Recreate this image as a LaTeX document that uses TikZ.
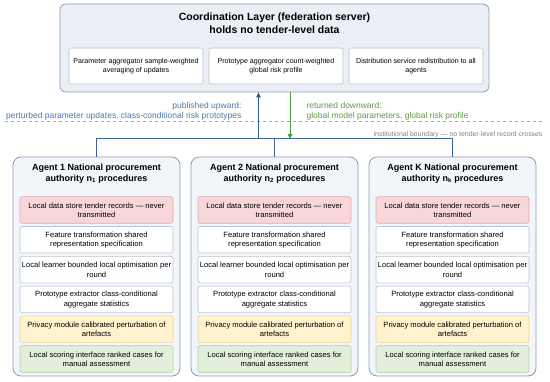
\documentclass[tikz,border=0pt]{standalone}
\usepackage{fontspec}
\setmainfont{Liberation Sans}
\usetikzlibrary{arrows.meta}

\definecolor{layerfill}{HTML}{EAEEF5}
\definecolor{agentfill}{HTML}{F2F6FB}
\definecolor{frameline}{HTML}{8C9DB2}
\definecolor{boxline}{HTML}{B9C5D3}
\definecolor{storefill}{HTML}{F8D7DA}
\definecolor{storeline}{HTML}{E3A5AC}
\definecolor{privfill}{HTML}{FFF2CC}
\definecolor{privline}{HTML}{E8D39A}
\definecolor{scorefill}{HTML}{E2EFDA}
\definecolor{scoreline}{HTML}{B5D1A3}
\definecolor{upblue}{HTML}{2E5C8A}
\definecolor{uptext}{HTML}{4A78A8}
\definecolor{downgreen}{HTML}{4E9A3C}
\definecolor{downtext}{HTML}{5B9A45}
\definecolor{busline}{HTML}{3E668F}

\begin{document}
\begin{tikzpicture}[x=1pt, y=-1pt,
        every node/.style={align=center, font=\fontsize{7.6}{9.4}\selectfont},
        layer/.style={rectangle, draw=frameline, line width=0.8pt, rounded corners=6pt, minimum width=429pt, minimum height=88pt, fill=layerfill},
        service/.style={rectangle, draw=boxline, line width=0.6pt, rounded corners=2pt, minimum width=134pt, minimum height=36pt, fill=white, font=\fontsize{7.1}{9}\selectfont},
        agent/.style={rectangle, draw=frameline, line width=0.8pt, rounded corners=8pt, minimum width=167pt, minimum height=219pt, fill=agentfill},
        module/.style={rectangle, draw=boxline, line width=0.6pt, rounded corners=2pt, minimum width=153pt, minimum height=26.5pt, fill=white, inner xsep=1pt},
        store/.style={module, fill=storefill, draw=storeline},
        privacy/.style={module, fill=privfill, draw=privline},
        scoring/.style={module, fill=scorefill, draw=scoreline},
        bus/.style={draw=busline, line width=0.9pt},
        upflow/.style={draw=upblue, line width=1pt, -{Triangle[length=5pt, width=4.5pt]}},
        downflow/.style={draw=downgreen, line width=1pt, -{Triangle[length=5pt, width=4.5pt]}},
        flowtext/.style={font=\fontsize{8.5}{10.2}\selectfont}
    ]
        \useasboundingbox (0, 0) rectangle (550, 382);

        % coordination layer
        \node[layer] (coord) at (274.5, 48) {};
        \node[font=\bfseries\fontsize{10.5}{12.5}\selectfont] (coord-title) at (274.5, 23) {Coordination Layer (federation server)\\holds no tender-level data};

        \node[service] (paramagg) at (136, 66) {Parameter aggregator sample-weighted\\averaging of updates};
        \node[service] (protoagg) at (276, 66) {Prototype aggregator count-weighted\\global risk profile};
        \node[service] (distrib)  at (416, 66) {Distribution service redistribution to all\\agents};

        % institutional boundary
        \coordinate (bnd-w) at (5, 121);
        \coordinate (bnd-e) at (545, 121);
        \draw[gray!70, dashed, line width=0.7pt] (bnd-w) -- (bnd-e);
        \node[font=\fontsize{6.9}{8}\selectfont, text=gray, anchor=east] (bnd-label) at (546, 135) {institutional boundary --- no tender-level record crosses};

        % agents
        \foreach \ax/\aname/\asub [count=\k] in {96.5/1/1, 274.5/2/2, 452.5/K/k} {
            \node[agent] (ag\k) at (\ax, 266.5) {};
            \node[font=\bfseries\fontsize{9}{11}\selectfont] (ag\k-title) at (\ax, 173.5) {Agent \aname\ National procurement\\authority n\textsubscript{\asub} procedures};

            \node[store]   (ag\k-store)   at (\ax, 210)   {Local data store tender records --- never\\transmitted};
            \node[module]  (ag\k-feature) at (\ax, 239.8) {Feature transformation shared\\representation specification};
            \node[module]  (ag\k-learner) at (\ax, 269.6) {Local learner bounded local optimisation per\\round};
            \node[module]  (ag\k-proto)   at (\ax, 299.4) {Prototype extractor class-conditional\\aggregate statistics};
            \node[privacy] (ag\k-privacy) at (\ax, 329.2) {Privacy module calibrated perturbation of\\artefacts};
            \node[scoring] (ag\k-scoring) at (\ax, 359)   {Local scoring interface ranked cases for\\manual assessment};
        }

        % bus to the agents
        \draw[bus] (ag1.north) -- ++(0, -18) -| (ag3.north);
        \draw[bus] (ag2.north) -- ++(0, -18);

        % exchanges across the boundary
        \coordinate (up-foot) at (258.5, 139);
        \coordinate (down-foot) at (290, 139);
        \draw[upflow] (up-foot) -- (up-foot |- coord.south);
        \draw[downflow] (coord.south -| down-foot) -- (down-foot);

        \node[flowtext, text=uptext, align=right, anchor=east] (up-label) at (245, 111) {published upward:\\perturbed parameter updates, class-conditional risk prototypes};
        \node[flowtext, text=downtext, align=left, anchor=west] (down-label) at (303, 111) {returned downward:\\global model parameters, global risk profile};
    \end{tikzpicture}
\end{document}
